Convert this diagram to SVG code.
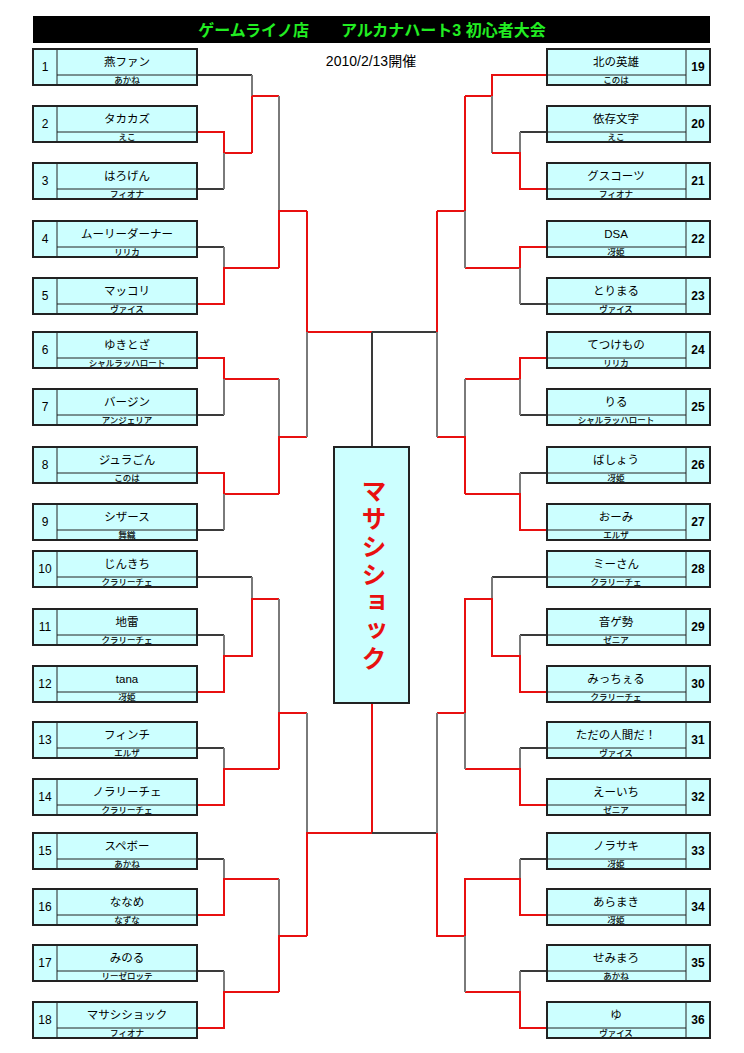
<svg xmlns="http://www.w3.org/2000/svg" width="744" height="1053" viewBox="0 0 744 1053">
<style>
text{font-family:"Liberation Sans","Noto Sans CJK JP",sans-serif;text-anchor:middle;fill:#000}
.box{fill:#ccffff;stroke:#222;stroke-width:2}
.div{stroke:#222;stroke-width:1}
.nm{font-size:11.5px}
.sb{font-size:8.5px;stroke:#000;stroke-width:0.15px}
.no{font-size:12px}
.nob{font-size:12px;font-weight:bold}
.r{stroke:#e81010;stroke-width:2;fill:none}
.gh{stroke:#3a3a3a;stroke-width:2;fill:none}
.gv{stroke:#7a7a7a;stroke-width:2;fill:none}
</style>
<rect x="33" y="16" width="677" height="27" fill="#000"/>
<text x="372" y="35.5" style="font-size:16px;font-weight:bold;fill:#22ee22">ゲームライノ店　　アルカナハート3 初心者大会</text>
<text x="371" y="66" style="font-size:14px">2010/2/13開催</text>

<g id="connectors">
<path class="gh" d="M197 75H252"/>
<path class="gv" d="M252 75V96"/>
<path class="r" d="M252 96V153"/>
<path class="r" d="M197 132H224V153H252"/>
<path class="gh" d="M197 189H224"/>
<path class="gv" d="M224 153V189"/>
<path class="r" d="M252 96H279"/>
<path class="gh" d="M197 247H224"/>
<path class="gv" d="M224 247V268"/>
<path class="r" d="M197 304H224V268H279"/>
<path class="gv" d="M279 96V211"/>
<path class="r" d="M279 268V211H307"/>
<path class="r" d="M197 358H224V379H279"/>
<path class="gh" d="M197 415H224"/>
<path class="gv" d="M224 379V415"/>
<path class="r" d="M197 473H224V494H279"/>
<path class="gh" d="M197 530H224"/>
<path class="gv" d="M224 494V530"/>
<path class="gv" d="M279 379V437"/>
<path class="r" d="M279 494V437H307"/>
<path class="r" d="M307 211V332H372"/>
<path class="gv" d="M307 332V437"/>
<path class="gh" d="M197 577H252"/>
<path class="gv" d="M252 577V599"/>
<path class="gh" d="M197 635H224"/>
<path class="gv" d="M224 635V656"/>
<path class="r" d="M197 692H224V656H252V599H279"/>
<path class="gh" d="M197 748H224"/>
<path class="gv" d="M224 748V769"/>
<path class="r" d="M197 805H224V769H279"/>
<path class="gv" d="M279 599V713"/>
<path class="r" d="M279 769V713H307"/>
<path class="gh" d="M197 859H224"/>
<path class="gv" d="M224 859V879"/>
<path class="r" d="M197 915H224V879H279"/>
<path class="gh" d="M197 971H224"/>
<path class="gv" d="M224 971V992"/>
<path class="r" d="M197 1028H224V992H279"/>
<path class="gv" d="M279 879V936"/>
<path class="r" d="M279 992V936H307"/>
<path class="gv" d="M307 713V833"/>
<path class="r" d="M307 936V833H372V703"/>
<path class="gh" d="M372 332H437"/>
<path class="gh" d="M372 332V447"/>
<path class="gh" d="M372 833H437"/>
<path class="r" d="M547 75H492V96H465"/>
<path class="gv" d="M492 96V153"/>
<path class="gh" d="M547 132H520"/>
<path class="gv" d="M520 132V153"/>
<path class="r" d="M547 189H520V153H492"/>
<path class="r" d="M547 247H520V268H465"/>
<path class="gh" d="M547 304H520"/>
<path class="gv" d="M520 268V304"/>
<path class="r" d="M465 96V211H437"/>
<path class="gv" d="M465 211V268"/>
<path class="r" d="M547 358H520V379H465"/>
<path class="gh" d="M547 415H520"/>
<path class="gv" d="M520 379V415"/>
<path class="gh" d="M547 473H520"/>
<path class="gv" d="M520 473V494"/>
<path class="r" d="M547 530H520V494H465"/>
<path class="gv" d="M465 379V437"/>
<path class="r" d="M465 494V437H437"/>
<path class="r" d="M437 211V332"/>
<path class="gv" d="M437 332V437"/>
<path class="gh" d="M547 577H492"/>
<path class="gv" d="M492 577V599"/>
<path class="gh" d="M547 635H520"/>
<path class="gv" d="M520 635V656"/>
<path class="r" d="M547 692H520V656H492V599H465V713H437"/>
<path class="gh" d="M547 748H520"/>
<path class="gv" d="M520 748V769"/>
<path class="r" d="M547 805H520V769H465"/>
<path class="gv" d="M465 713V769"/>
<path class="gh" d="M547 859H520"/>
<path class="gv" d="M520 859V879"/>
<path class="r" d="M547 915H520V879H465V936H437V833"/>
<path class="gh" d="M547 971H520"/>
<path class="gv" d="M520 971V992"/>
<path class="r" d="M547 1028H520V992H465"/>
<path class="gv" d="M465 936V992"/>
<path class="gv" d="M437 713V833"/>
</g>

<g id="p1"><rect class="box" x="33" y="49" width="164" height="36"/><path class="div" d="M57 49V85M57 75H197"/><text class="no" x="45" y="71">1</text><text class="nm" x="127" y="66">燕ファン</text><text class="sb" x="127" y="83">あかね</text></g>
<g id="p2"><rect class="box" x="33" y="106" width="164" height="36"/><path class="div" d="M57 106V142M57 132H197"/><text class="no" x="45" y="128">2</text><text class="nm" x="127" y="123">タカカズ</text><text class="sb" x="127" y="140">えこ</text></g>
<g id="p3"><rect class="box" x="33" y="163" width="164" height="36"/><path class="div" d="M57 163V199M57 189H197"/><text class="no" x="45" y="185">3</text><text class="nm" x="127" y="180">はろげん</text><text class="sb" x="127" y="197">フィオナ</text></g>
<g id="p4"><rect class="box" x="33" y="221" width="164" height="36"/><path class="div" d="M57 221V257M57 247H197"/><text class="no" x="45" y="243">4</text><text class="nm" x="127" y="238">ムーリーダーナー</text><text class="sb" x="127" y="255">リリカ</text></g>
<g id="p5"><rect class="box" x="33" y="278" width="164" height="36"/><path class="div" d="M57 278V314M57 304H197"/><text class="no" x="45" y="300">5</text><text class="nm" x="127" y="295">マッコリ</text><text class="sb" x="127" y="312">ヴァイス</text></g>
<g id="p6"><rect class="box" x="33" y="332" width="164" height="36"/><path class="div" d="M57 332V368M57 358H197"/><text class="no" x="45" y="354">6</text><text class="nm" x="127" y="349">ゆきとざ</text><text class="sb" x="127" y="366">シャルラッハロート</text></g>
<g id="p7"><rect class="box" x="33" y="389" width="164" height="36"/><path class="div" d="M57 389V425M57 415H197"/><text class="no" x="45" y="411">7</text><text class="nm" x="127" y="406">バージン</text><text class="sb" x="127" y="423">アンジェリア</text></g>
<g id="p8"><rect class="box" x="33" y="447" width="164" height="36"/><path class="div" d="M57 447V483M57 473H197"/><text class="no" x="45" y="469">8</text><text class="nm" x="127" y="464">ジュラごん</text><text class="sb" x="127" y="481">このは</text></g>
<g id="p9"><rect class="box" x="33" y="504" width="164" height="36"/><path class="div" d="M57 504V540M57 530H197"/><text class="no" x="45" y="526">9</text><text class="nm" x="127" y="521">シザース</text><text class="sb" x="127" y="538">舞織</text></g>
<g id="p10"><rect class="box" x="33" y="551" width="164" height="36"/><path class="div" d="M57 551V587M57 577H197"/><text class="no" x="45" y="573">10</text><text class="nm" x="127" y="568">じんきち</text><text class="sb" x="127" y="585">クラリーチェ</text></g>
<g id="p11"><rect class="box" x="33" y="609" width="164" height="36"/><path class="div" d="M57 609V645M57 635H197"/><text class="no" x="45" y="631">11</text><text class="nm" x="127" y="626">地雷</text><text class="sb" x="127" y="643">クラリーチェ</text></g>
<g id="p12"><rect class="box" x="33" y="666" width="164" height="36"/><path class="div" d="M57 666V702M57 692H197"/><text class="no" x="45" y="688">12</text><text class="nm" x="127" y="683">tana</text><text class="sb" x="127" y="700">冴姫</text></g>
<g id="p13"><rect class="box" x="33" y="722" width="164" height="36"/><path class="div" d="M57 722V758M57 748H197"/><text class="no" x="45" y="744">13</text><text class="nm" x="127" y="739">フィンチ</text><text class="sb" x="127" y="756">エルザ</text></g>
<g id="p14"><rect class="box" x="33" y="779" width="164" height="36"/><path class="div" d="M57 779V815M57 805H197"/><text class="no" x="45" y="801">14</text><text class="nm" x="127" y="796">ノラリーチェ</text><text class="sb" x="127" y="813">クラリーチェ</text></g>
<g id="p15"><rect class="box" x="33" y="833" width="164" height="36"/><path class="div" d="M57 833V869M57 859H197"/><text class="no" x="45" y="855">15</text><text class="nm" x="127" y="850">スペボー</text><text class="sb" x="127" y="867">あかね</text></g>
<g id="p16"><rect class="box" x="33" y="889" width="164" height="36"/><path class="div" d="M57 889V925M57 915H197"/><text class="no" x="45" y="911">16</text><text class="nm" x="127" y="906">ななめ</text><text class="sb" x="127" y="923">なずな</text></g>
<g id="p17"><rect class="box" x="33" y="945" width="164" height="36"/><path class="div" d="M57 945V981M57 971H197"/><text class="no" x="45" y="967">17</text><text class="nm" x="127" y="962">みのる</text><text class="sb" x="127" y="979">リーゼロッテ</text></g>
<g id="p18"><rect class="box" x="33" y="1002" width="164" height="36"/><path class="div" d="M57 1002V1038M57 1028H197"/><text class="no" x="45" y="1024">18</text><text class="nm" x="127" y="1019">マサシショック</text><text class="sb" x="127" y="1036">フィオナ</text></g>

<g id="p19"><rect class="box" x="547" y="49" width="163" height="36"/><path class="div" d="M686 49V85M547 75H686"/><text class="nob" x="698" y="71">19</text><text class="nm" x="616" y="66">北の英雄</text><text class="sb" x="616" y="83">このは</text></g>
<g id="p20"><rect class="box" x="547" y="106" width="163" height="36"/><path class="div" d="M686 106V142M547 132H686"/><text class="nob" x="698" y="128">20</text><text class="nm" x="616" y="123">依存文字</text><text class="sb" x="616" y="140">えこ</text></g>
<g id="p21"><rect class="box" x="547" y="163" width="163" height="36"/><path class="div" d="M686 163V199M547 189H686"/><text class="nob" x="698" y="185">21</text><text class="nm" x="616" y="180">グスコーツ</text><text class="sb" x="616" y="197">フィオナ</text></g>
<g id="p22"><rect class="box" x="547" y="221" width="163" height="36"/><path class="div" d="M686 221V257M547 247H686"/><text class="nob" x="698" y="243">22</text><text class="nm" x="616" y="238">DSA</text><text class="sb" x="616" y="255">冴姫</text></g>
<g id="p23"><rect class="box" x="547" y="278" width="163" height="36"/><path class="div" d="M686 278V314M547 304H686"/><text class="nob" x="698" y="300">23</text><text class="nm" x="616" y="295">とりまる</text><text class="sb" x="616" y="312">ヴァイス</text></g>
<g id="p24"><rect class="box" x="547" y="332" width="163" height="36"/><path class="div" d="M686 332V368M547 358H686"/><text class="nob" x="698" y="354">24</text><text class="nm" x="616" y="349">てつけもの</text><text class="sb" x="616" y="366">リリカ</text></g>
<g id="p25"><rect class="box" x="547" y="389" width="163" height="36"/><path class="div" d="M686 389V425M547 415H686"/><text class="nob" x="698" y="411">25</text><text class="nm" x="616" y="406">りる</text><text class="sb" x="616" y="423">シャルラッハロート</text></g>
<g id="p26"><rect class="box" x="547" y="447" width="163" height="36"/><path class="div" d="M686 447V483M547 473H686"/><text class="nob" x="698" y="469">26</text><text class="nm" x="616" y="464">ばしょう</text><text class="sb" x="616" y="481">冴姫</text></g>
<g id="p27"><rect class="box" x="547" y="504" width="163" height="36"/><path class="div" d="M686 504V540M547 530H686"/><text class="nob" x="698" y="526">27</text><text class="nm" x="616" y="521">おーみ</text><text class="sb" x="616" y="538">エルザ</text></g>
<g id="p28"><rect class="box" x="547" y="551" width="163" height="36"/><path class="div" d="M686 551V587M547 577H686"/><text class="nob" x="698" y="573">28</text><text class="nm" x="616" y="568">ミーさん</text><text class="sb" x="616" y="585">クラリーチェ</text></g>
<g id="p29"><rect class="box" x="547" y="609" width="163" height="36"/><path class="div" d="M686 609V645M547 635H686"/><text class="nob" x="698" y="631">29</text><text class="nm" x="616" y="626">音ゲ勢</text><text class="sb" x="616" y="643">ゼニア</text></g>
<g id="p30"><rect class="box" x="547" y="666" width="163" height="36"/><path class="div" d="M686 666V702M547 692H686"/><text class="nob" x="698" y="688">30</text><text class="nm" x="616" y="683">みっちぇる</text><text class="sb" x="616" y="700">クラリーチェ</text></g>
<g id="p31"><rect class="box" x="547" y="722" width="163" height="36"/><path class="div" d="M686 722V758M547 748H686"/><text class="nob" x="698" y="744">31</text><text class="nm" x="616" y="739">ただの人間だ！</text><text class="sb" x="616" y="756">ヴァイス</text></g>
<g id="p32"><rect class="box" x="547" y="779" width="163" height="36"/><path class="div" d="M686 779V815M547 805H686"/><text class="nob" x="698" y="801">32</text><text class="nm" x="616" y="796">えーいち</text><text class="sb" x="616" y="813">ゼニア</text></g>
<g id="p33"><rect class="box" x="547" y="833" width="163" height="36"/><path class="div" d="M686 833V869M547 859H686"/><text class="nob" x="698" y="855">33</text><text class="nm" x="616" y="850">ノラサキ</text><text class="sb" x="616" y="867">冴姫</text></g>
<g id="p34"><rect class="box" x="547" y="889" width="163" height="36"/><path class="div" d="M686 889V925M547 915H686"/><text class="nob" x="698" y="911">34</text><text class="nm" x="616" y="906">あらまき</text><text class="sb" x="616" y="923">冴姫</text></g>
<g id="p35"><rect class="box" x="547" y="945" width="163" height="36"/><path class="div" d="M686 945V981M547 971H686"/><text class="nob" x="698" y="967">35</text><text class="nm" x="616" y="962">せみまろ</text><text class="sb" x="616" y="979">あかね</text></g>
<g id="p36"><rect class="box" x="547" y="1002" width="163" height="36"/><path class="div" d="M686 1002V1038M547 1028H686"/><text class="nob" x="698" y="1024">36</text><text class="nm" x="616" y="1019">ゆ</text><text class="sb" x="616" y="1036">ヴァイス</text></g>

<g id="champion"><rect class="box" x="334" y="447" width="75" height="256"/><text x="372" y="478" style="font-size:25px;font-weight:bold;fill:#e81010;writing-mode:vertical-rl;text-anchor:start;letter-spacing:3px">マサシショック</text></g>
</svg>
